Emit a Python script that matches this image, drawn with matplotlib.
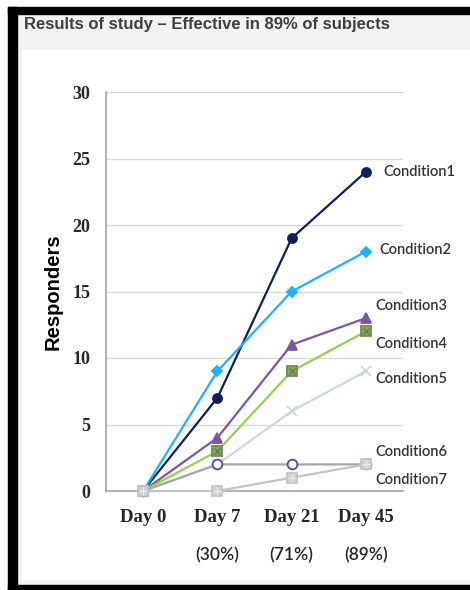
import matplotlib.pyplot as plt
from matplotlib.patches import Rectangle
from matplotlib.transforms import blended_transform_factory

# data
days = ['Day 0', 'Day 7', 'Day 21', 'Day 45']
percents = ['', '(30%)', '(71%)', '(89%)']
conditions = ['Condition1', 'Condition2', 'Condition3', 'Condition4',
              'Condition5', 'Condition6', 'Condition7']
cond1 = [0, 7, 19, 24]
cond2 = [0, 9, 15, 18]
cond3 = [0, 4, 11, 13]
cond4 = [0, 3, 9, 12]
cond5 = [0, 2, 6, 9]
cond6 = [0, 2, 2, 2]
cond7 = [0, 0, 1, 2]
series = [cond1, cond2, cond3, cond4, cond5, cond6, cond7]
yticks = [0, 5, 10, 15, 20, 25, 30]

# style per series: line colour, marker, marker face, marker edge, size
styles = [
    ('#0f1f5a', 'o', '#0f1f5a', '#0f1f5a', 6.5),
    ('#1fb3ef', 'D', '#1fb3ef', '#1fb3ef', 5.5),
    ('#7b56a4', '^', '#7b56a4', '#7b56a4', 7.5),
    ('#92d050', 's', '#86a563', '#6f8a52', 6.5),
    ('#c9d9dd', 'x', 'none', '#c9d9dd', 7),
    ('#a6a6a6', 'o', 'white', '#4b4c9c', 7),
    ('#c4c4c4', 's', '#cdd3d3', '#c0c6c6', 7),
]
# label offsets (pixels) from the last point
label_offsets = [(17, 0), (14, 2), (10, 12), (10, -13), (10, -8), (10, 12), (10, -16)]

W, H = 470, 590
fig = plt.figure(figsize=(W / 100, H / 100), dpi=100)
fig.patch.set_facecolor('#f2f2f2')


def frect(x0, y0, x1, y1, color):
    # rectangle in pixel coords measured from the top-left
    fig.patches.append(Rectangle((x0 / W, 1 - y1 / H), (x1 - x0) / W, (y1 - y0) / H,
                                 transform=fig.transFigure, color=color, zorder=-5))


frect(0, 0, W, 7, 'white')
frect(0, 0, 8, H, 'white')
frect(22, 50, W, 579, 'white')
frect(8, 7, W, 14, 'black')
frect(8, 7, 17, H, 'black')
frect(8, 585, W, H, 'black')

fig.text(24 / W, 1 - 24 / H, 'Results of study \u2013 Effective in 89% of subjects',
         fontsize=12, fontweight='bold', color='#3f3f3f', family='Liberation Sans',
         va='center', ha='left')

ax = fig.add_axes([106 / W, 99 / H, 297 / W, 399 / H])
ax.set_zorder(2)
ax.set_facecolor('white')
x = list(range(len(days)))

for i, (vals, st) in enumerate(zip(series, styles)):
    color, marker, mfc, mec, ms = st
    ax.plot(x, vals, color=color, lw=1.6, marker=marker, markersize=ms,
            markerfacecolor=mfc, markeredgecolor=mec, markeredgewidth=1.3,
            zorder=3 + i, clip_on=False)
    if i == 3:
        ax.plot(x[1:], vals[1:], ls='none', marker='x', markersize=5,
                markeredgecolor='#5d7444', markeredgewidth=0.8, zorder=3 + i)
    if i == 6:
        ax.plot(x, vals, ls='none', marker='+', markersize=6,
                markeredgecolor='#e8ecec', markeredgewidth=0.9, zorder=3 + i,
                clip_on=False)
    dx, dy = label_offsets[i]
    ax.annotate(conditions[i], (x[-1], vals[-1]), xytext=(dx, dy),
                textcoords='offset pixels', fontsize=10.5, color='#333333',
                family='Lato', fontweight='semibold', va='center', ha='left',
                annotation_clip=False)

ax.set_xlim(-0.5, 3.5)
ax.set_ylim(0, 30)
ax.set_yticks(yticks)
ax.set_xticks(x)
ax.set_xticklabels(days)
ax.grid(axis='y', color='#d9d9d9', lw=1)
ax.set_axisbelow(True)
for s in ['top', 'right']:
    ax.spines[s].set_visible(False)
for s in ['left', 'bottom']:
    ax.spines[s].set_color('#a6a6a6')
    ax.spines[s].set_linewidth(1.2)
ax.tick_params(length=0)
ax.tick_params(axis='y', pad=11.5)
ax.tick_params(axis='x', pad=13)
for lab in ax.get_yticklabels():
    lab.set_fontsize(13)
for lab in ax.get_xticklabels():
    lab.set_fontsize(13.5)
for lab in ax.get_xticklabels() + ax.get_yticklabels():
    lab.set_family('Liberation Serif')
    lab.set_fontweight('bold')
    lab.set_color('#262626')

ax.set_ylabel('Responders', fontsize=14.5, fontweight='bold', family='Liberation Sans',
              color='black', labelpad=7)

tr = blended_transform_factory(ax.transData, ax.transAxes)
for xi, p in zip(x, percents):
    ax.text(xi, -0.161, p, transform=tr, ha='center', va='center', fontsize=12.5,
            family='Lato', fontweight='semibold', color='#262626')

fig.savefig('out.png', dpi=100, facecolor=fig.get_facecolor())
